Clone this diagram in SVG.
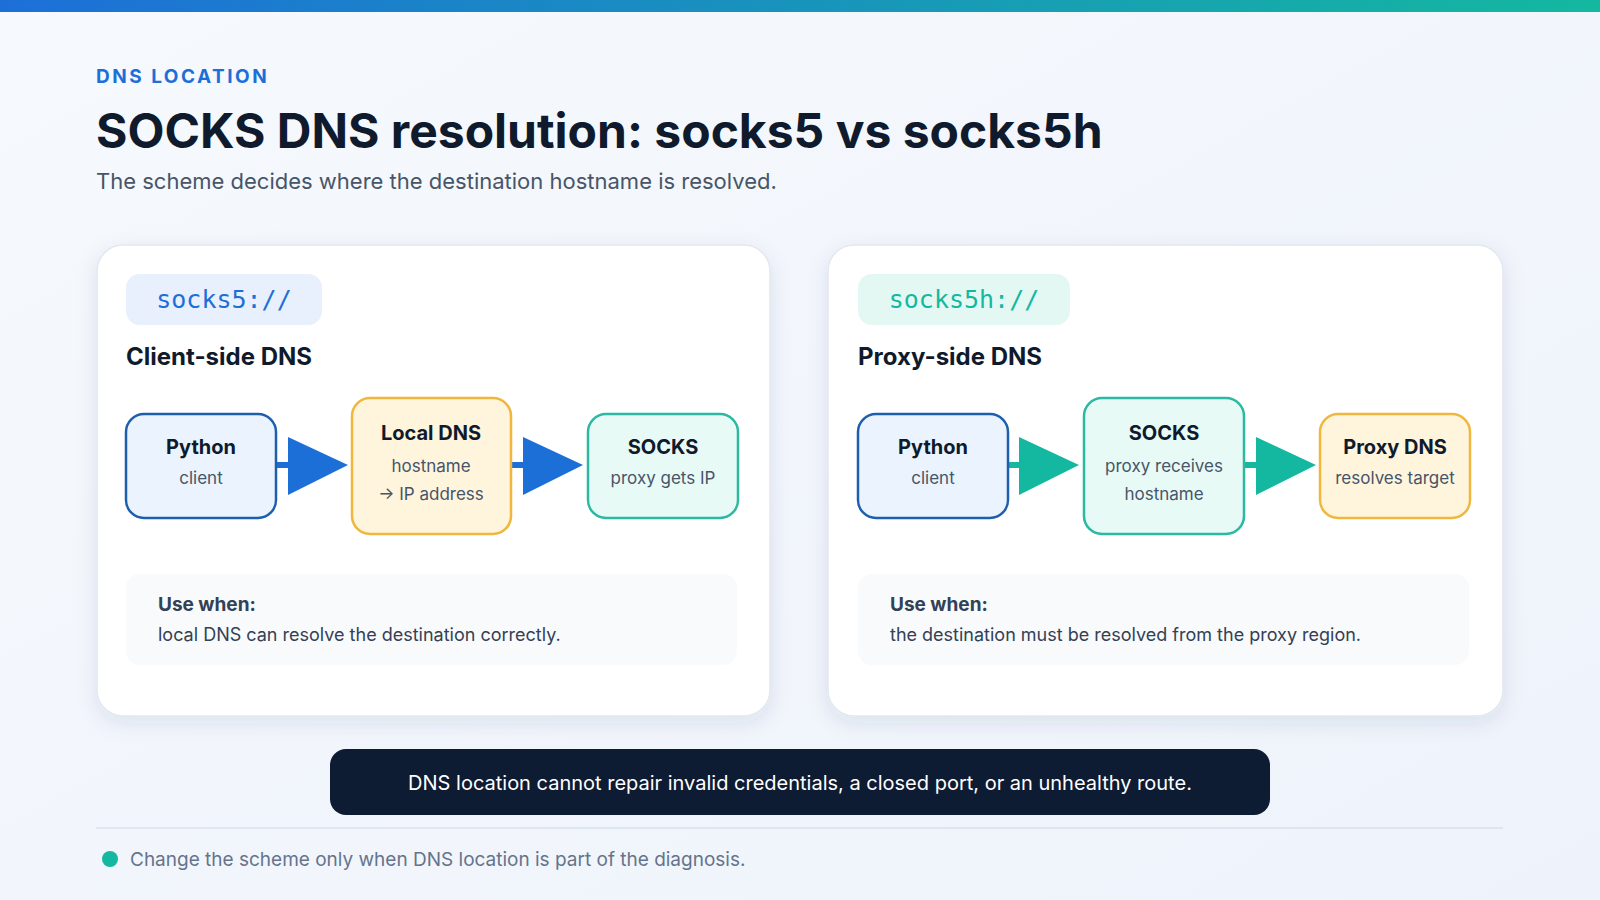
<svg xmlns="http://www.w3.org/2000/svg" width="1600" height="900" viewBox="0 0 1600 900">
<defs>
<linearGradient id="top" x1="0" x2="1" y1="0" y2="0"><stop offset="0" stop-color="#1d6fd8"/><stop offset="1" stop-color="#14b8a0"/></linearGradient>
<linearGradient id="bg" x1="0" x2="1" y1="0" y2="1"><stop offset="0" stop-color="#f6f9fd"/><stop offset="1" stop-color="#eef3fb"/></linearGradient>
<filter id="sh" x="-10%" y="-10%" width="120%" height="130%"><feDropShadow dx="0" dy="6" stdDeviation="10" flood-color="#1e3a5f" flood-opacity="0.10"/></filter>
<marker id="ab" viewBox="0 0 10 10" refX="9" refY="5" markerWidth="5" markerHeight="5" markerUnits="userSpaceOnUse"/>
</defs>
<style>
text{font-family:"Inter","Liberation Sans",sans-serif}
.card{fill:#fff;stroke:#e2e8f0;stroke-width:1.5}
.nt{font-size:20px;font-weight:700;fill:#0f1b2d;text-anchor:middle}
.ns{font-size:17px;fill:#475569;text-anchor:middle}
.blue{fill:#eaf3fe;stroke:#1d5fae;stroke-width:2.5}
.amber{fill:#fff4dc;stroke:#efb73e;stroke-width:2.5}
.teal{fill:#e8faf6;stroke:#2bb9a3;stroke-width:2.5}
.h{font-size:24px;font-weight:700;fill:#0f1b2d}
.uw{font-size:19px;font-weight:700;fill:#334155}
.ut{font-size:18px;fill:#334155}
.mono{font-family:"DejaVu Sans Mono","Liberation Mono",monospace;font-size:25px}
</style>
<rect width="1600" height="900" fill="url(#bg)"/>
<rect width="1600" height="12" fill="url(#top)"/>
<text x="96" y="83" font-size="19" font-weight="700" fill="#1d6fd8" letter-spacing="2.5">DNS LOCATION</text>
<text x="96" y="148" font-size="48" font-weight="700" fill="#0f1b2d">SOCKS DNS resolution: socks5 vs socks5h</text>
<text x="96" y="189" font-size="22" fill="#475569">The scheme decides where the destination hostname is resolved.</text>

<g id="card-left">
<rect class="card" x="97" y="245" width="673" height="471" rx="26" filter="url(#sh)"/>
<rect x="126" y="274" width="196" height="51" rx="14" fill="#e7f0fc"/>
<text class="mono" x="224" y="308" text-anchor="middle" fill="#1d6fd8">socks5://</text>
<text class="h" x="126" y="365">Client-side DNS</text>
<rect x="126" y="574" width="611" height="91" rx="14" fill="#f8fafc"/>
<text class="uw" x="158" y="611">Use when:</text>
<text class="ut" x="158" y="641">local DNS can resolve the destination correctly.</text>
</g>
<g id="card-right">
<rect class="card" x="828" y="245" width="675" height="471" rx="26" filter="url(#sh)"/>
<rect x="858" y="274" width="212" height="51" rx="14" fill="#e4f8f3"/>
<text class="mono" x="964" y="308" text-anchor="middle" fill="#14b8a0">socks5h://</text>
<text class="h" x="858" y="365">Proxy-side DNS</text>
<rect x="858" y="574" width="611" height="91" rx="14" fill="#f8fafc"/>
<text class="uw" x="890" y="611">Use when:</text>
<text class="ut" x="890" y="641">the destination must be resolved from the proxy region.</text>
</g>

<g id="connectors">
<path d="M276 465H290" stroke="#1d6fd8" stroke-width="6"/>
<polygon points="288,437 348,465 288,495" fill="#1d6fd8"/>
<path d="M511 465H525" stroke="#1d6fd8" stroke-width="6"/>
<polygon points="523,437 583,465 523,495" fill="#1d6fd8"/>
<path d="M1007 465H1021" stroke="#14b8a0" stroke-width="6"/>
<polygon points="1019,437 1079,465 1019,495" fill="#14b8a0"/>
<path d="M1244 465H1258" stroke="#14b8a0" stroke-width="6"/>
<polygon points="1256,437 1316,465 1256,495" fill="#14b8a0"/>
</g>

<g id="n-python1"><rect class="blue" x="126" y="414" width="150" height="104" rx="18"/><text class="nt" x="201" y="454">Python</text><text class="ns" x="201" y="484">client</text></g>
<g id="n-localdns"><rect class="amber" x="352" y="398" width="159" height="136" rx="18"/><text class="nt" x="431" y="440">Local DNS</text><text class="ns" x="431" y="472">hostname</text><text class="ns" x="431" y="500">→ IP address</text></g>
<g id="n-socks1"><rect class="teal" x="588" y="414" width="150" height="104" rx="18"/><text class="nt" x="663" y="454">SOCKS</text><text class="ns" x="663" y="484">proxy gets IP</text></g>

<g id="n-python2"><rect class="blue" x="858" y="414" width="150" height="104" rx="18"/><text class="nt" x="933" y="454">Python</text><text class="ns" x="933" y="484">client</text></g>
<g id="n-socks2"><rect class="teal" x="1084" y="398" width="160" height="136" rx="18"/><text class="nt" x="1164" y="440">SOCKS</text><text class="ns" x="1164" y="472">proxy receives</text><text class="ns" x="1164" y="500">hostname</text></g>
<g id="n-proxydns"><rect class="amber" x="1320" y="414" width="150" height="104" rx="18"/><text class="nt" x="1395" y="454">Proxy DNS</text><text class="ns" x="1395" y="484">resolves target</text></g>

<g id="note">
<rect x="330" y="749" width="940" height="66" rx="16" fill="#0d1b33"/>
<text x="800" y="790" font-size="20" fill="#fff" text-anchor="middle">DNS location cannot repair invalid credentials, a closed port, or an unhealthy route.</text>
</g>
<path d="M96 828H1503" stroke="#d9e1ea" stroke-width="1.5"/>
<circle cx="110" cy="859" r="8" fill="#14b8a0"/>
<text x="130" y="866" font-size="19" fill="#64748b">Change the scheme only when DNS location is part of the diagnosis.</text>
</svg>
